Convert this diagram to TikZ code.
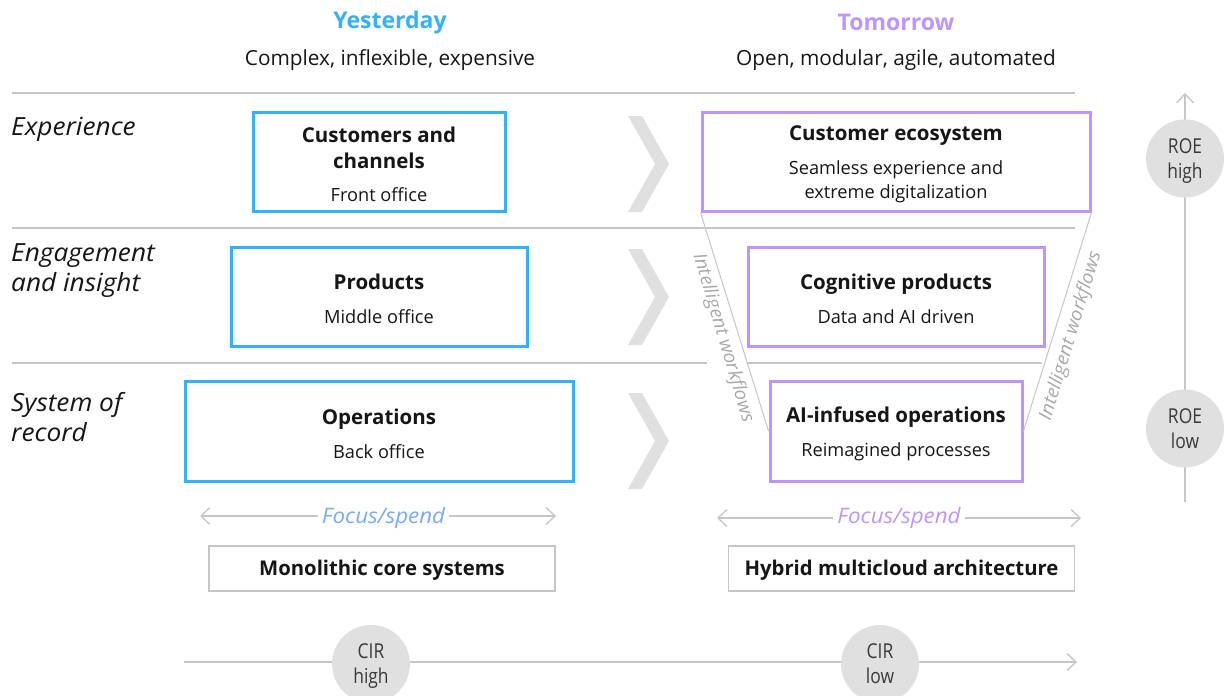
\documentclass[tikz,border=0pt]{standalone}
\usepackage{fontspec}
\setmainfont{Open Sans}
\newfontfamily\condfont[FakeStretch=0.85]{Open Sans}
\newfontfamily\widefont[FakeStretch=1.05]{Open Sans}
\usetikzlibrary{arrows.meta}
\definecolor{yblue}{HTML}{33B1FF}
\definecolor{tpurple}{HTML}{BE95FF}
\definecolor{fblue}{HTML}{78A9FF}
\definecolor{sepgray}{HTML}{C6C6C6}
\definecolor{chevgray}{HTML}{E0E0E0}
\definecolor{rotgray}{HTML}{A8A8A8}
\definecolor{ink}{HTML}{161616}
\definecolor{circtext}{HTML}{393939}
\newcommand\mybody{\fontsize{18.2}{24}\selectfont}
\newcommand\mytitle{\bfseries\fontsize{20.5}{25}\selectfont}
\tikzset{mybarb/.tip={Straight Barb[length=9pt,width=17pt,line width=1.3pt]}}
\begin{document}
\begin{tikzpicture}[x=1pt,y=-1pt,
  every node/.style={inner sep=0pt, text=ink},
  ybox/.style={draw=yblue, line width=3pt},
  tbox/.style={draw=tpurple, line width=3pt},
  btext/.style={align=center, font=\mybody},
  sep/.style={draw=sepgray, line width=1.3pt},
  axis/.style={draw=sepgray, line width=1.3pt},
  chev/.style={fill=chevgray, draw=none},
  lab/.style={anchor=west, align=left, font=\widefont\fontsize{25}{30}\selectfont\itshape},
  rot/.style={font=\widefont\fontsize{18.5}{22}\selectfont\itshape, text=rotgray},
  focus/.style={fill=white, inner xsep=4pt, inner ysep=2pt, font=\widefont\fontsize{21.3}{25}\selectfont\itshape},
  core/.style={draw=sepgray, line width=1.5pt, minimum width=346, minimum height=45},
  coretext/.style={font=\fontsize{20.3}{24}\selectfont\bfseries},
  circ/.style={circle, fill=chevgray, minimum size=78},
  circtxt/.style={align=center, font=\condfont\fontsize{20.5}{25}\selectfont, text=circtext},
  hdr/.style={font=\fontsize{23}{27}\selectfont\bfseries},
  subh/.style={font=\fontsize{20.8}{25}\selectfont},
]
\useasboundingbox (0,0) rectangle (1227,696);

% headers
\node[hdr, text=yblue] (yh) at (390,22.5) {Yesterday};
\node[subh] (ys) at (390,60.5) {Complex, inflexible, expensive};
\node[hdr, text=tpurple] (th) at (896,22.5) {Tomorrow};
\node[subh] (ts) at (896,60.5) {Open, modular, agile, automated};

% separators
\draw[sep] (12,93) -- (1075,93);
\draw[sep] (12,228) -- (1075,228);
\draw[sep] (12,363) -- (707,363);
\draw[sep] (747,363) -- (1042,363);

% row labels
\node[lab] (lexp) at (11,129) {Experience};
\node[lab] (leng) at (11,270.5) {Engagement\\and insight};
\node[lab] (lsys) at (11,417) {System of\\record};

% chevrons
\foreach \cy in {164,297,441}
  \fill[chev] (628,\cy-48) -- (642,\cy-48) -- (669,\cy) -- (642,\cy+48) -- (628,\cy+48) -- (655,\cy) -- cycle;

% yesterday boxes
\node[ybox, minimum width=252, minimum height=99] (cc) at (379,161.5) {};
\node[btext] (cct) at ([yshift=-2.5pt]cc.center)
  {{\mytitle Customers and}\\[2pt]{\mytitle channels}\\[9pt]Front office};
\node[ybox, minimum width=296, minimum height=99] (pr) at (379,296.5) {};
\node[btext] (prt) at ([yshift=-2.5pt]pr.center)
  {{\mytitle Products}\\[10pt]Middle office};
\node[ybox, minimum width=388, minimum height=100] (op) at (379,431) {};
\node[btext] (opt) at ([yshift=-2.5pt]op.center)
  {{\mytitle Operations}\\[10pt]Back office};

% tomorrow boxes
\node[tbox, minimum width=388, minimum height=99] (ce) at (896,161.5) {};
\node[btext] (cet) at ([yshift=-3pt]ce.center)
  {{\mytitle Customer ecosystem}\\[10pt]Seamless experience and\\extreme digitalization};
\node[tbox, minimum width=296, minimum height=99] (cp) at (896,296.5) {};
\node[btext] (cpt) at ([yshift=-2.5pt]cp.center)
  {{\mytitle Cognitive products}\\[10pt]Data and AI driven};
\node[tbox, minimum width=252, minimum height=100] (ai) at (896,431) {};
\node[btext] (ait) at ([yshift=-2.5pt]ai.center)
  {{\mytitle AI-infused operations}\\[10pt]Reimagined processes};

% intelligent workflows
\draw[sepgray, line width=1pt] (ce.south west) -- (ai.west);
\draw[sepgray, line width=1pt] (ce.south east) -- (ai.east);
\node[rot, rotate=-73.5] (iwl) at (723,338) {Intelligent workflows};
\node[rot, rotate=73.3] (iwr) at (1071,336) {Intelligent workflows};

% focus/spend
\coordinate (fl1) at (200,516);
\coordinate (fl2) at (556,516);
\draw[axis, {mybarb}-{mybarb}] (fl1) -- (fl2);
\node[focus, text=fblue] (fsl) at (383.5,517.5) {Focus/spend};
\coordinate (fr1) at (717,518);
\coordinate (fr2) at (1081,518);
\draw[axis, {mybarb}-{mybarb}] (fr1) -- (fr2);
\node[focus, text=tpurple] (fsr) at (899,518) {Focus/spend};

% core systems
\node[core] (mono) at (382,568.5) {};
\node[coretext] (monot) at ([yshift=-2pt]mono.center) {Monolithic core systems};
\node[core] (hyb) at (901.5,568.5) {};
\node[coretext] (hybt) at ([yshift=-2pt]hyb.center) {Hybrid multicloud architecture};

% ROE axis
\coordinate (roeb) at (1185,502);
\coordinate (roet) at (1185,93);
\draw[axis, -{mybarb}] (roeb) -- (roet);
\node[circ] (roeh) at (1185,158.5) {};
\node[circtxt] (roeht) at ([yshift=-3pt]roeh.center) {ROE\\high};
\node[circ] (roel) at (1185,428.5) {};
\node[circtxt] (roelt) at ([yshift=-3pt]roel.center) {ROE\\low\vphantom{g}};

% CIR axis
\coordinate (cir0) at (184,662);
\coordinate (cir1) at (1077,662);
\draw[axis, -{mybarb}] (cir0) -- (cir1);
\node[circ] (cirh) at (371,664) {};
\node[circtxt] (cirht) at ([yshift=-2.5pt]cirh.center) {CIR\\high};
\node[circ] (cirl) at (880,664) {};
\node[circtxt] (cirlt) at ([yshift=-2.5pt]cirl.center) {CIR\\low\vphantom{g}};
\end{tikzpicture}
\end{document}
